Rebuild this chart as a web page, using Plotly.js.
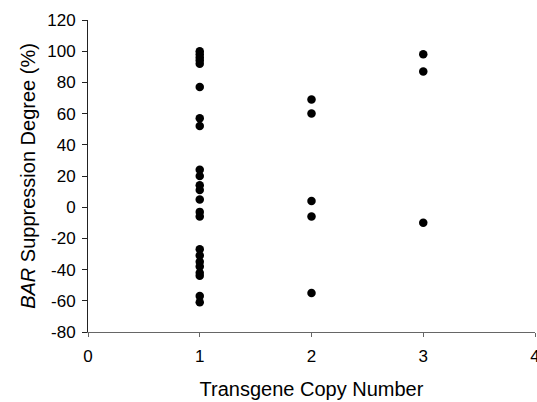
<!DOCTYPE html>
<html>
<head>
<meta charset="utf-8">
<script src="https://cdn.plot.ly/plotly-3.0.1.min.js"></script>
<style>html,body{margin:0;padding:0;background:#fff;}#chart{width:537px;height:402px;}</style>
</head>
<body>
<div id="chart"></div>
<script>
var suppression1 = [100,98,96,94,92,77,57,52,24,20,14,11,5,-3,-6,-27,-31,-35,-38,-42,-44,-57,-61];
var copyNumber2 = [2,2,2,2,2];
var suppression2 = [69,60,4,-6,-55];
var copyNumber3 = [3,3,3];
var suppression3 = [98,87,-10];
var xTickVals = [0,1,2,3,4];
var xTickText = ['0','1','2','3','4'];
var yTickVals = [-80,-60,-40,-20,0,20,40,60,80,100,120];
var yTickText = ['-80','-60','-40','-20','0','20','40','60','80','100','120'];

var xs = [], ys = [];
suppression1.forEach(function(v){ xs.push(1); ys.push(v); });
suppression2.forEach(function(v,i){ xs.push(copyNumber2[i]); ys.push(v); });
suppression3.forEach(function(v,i){ xs.push(copyNumber3[i]); ys.push(v); });

var trace = {
  x: xs, y: ys, type: 'scatter', mode: 'markers',
  marker: {color: '#000', size: 8.5},
  hoverinfo: 'x+y'
};

var layout = {
  width: 537, height: 402,
  margin: {l: 88, r: 2, t: 20, b: 70},
  paper_bgcolor: '#fff', plot_bgcolor: '#fff',
  font: {family: 'Liberation Sans, Arial, sans-serif', color: '#000', size: 17},
  showlegend: false,
  xaxis: {
    range: [0, 4], tickmode: 'array', tickvals: xTickVals, ticktext: xTickText,
    showgrid: false, zeroline: false,
    showline: true, linecolor: '#666', linewidth: 1,
    ticks: 'outside', ticklen: 4, tickcolor: '#666',
    ticklabeloverflow: 'allow', ticklabelstandoff: 5,
    tickfont: {size: 17},
    title: {text: 'Transgene Copy Number', font: {size: 20}, standoff: 16}
  },
  yaxis: {
    range: [-80, 120], tickmode: 'array', tickvals: yTickVals, ticktext: yTickText,
    showgrid: false, zeroline: false,
    showline: true, linecolor: '#222', linewidth: 1,
    ticks: 'outside', ticklen: 5, tickcolor: '#222',
    ticklabelstandoff: 3,
    tickfont: {size: 17},
    title: {text: '<i>BAR</i> Suppression Degree (%)', font: {size: 20}, standoff: 6}
  }
};

Plotly.newPlot('chart', [trace], layout, {displayModeBar: false, staticPlot: true});
</script>
</body>
</html>
